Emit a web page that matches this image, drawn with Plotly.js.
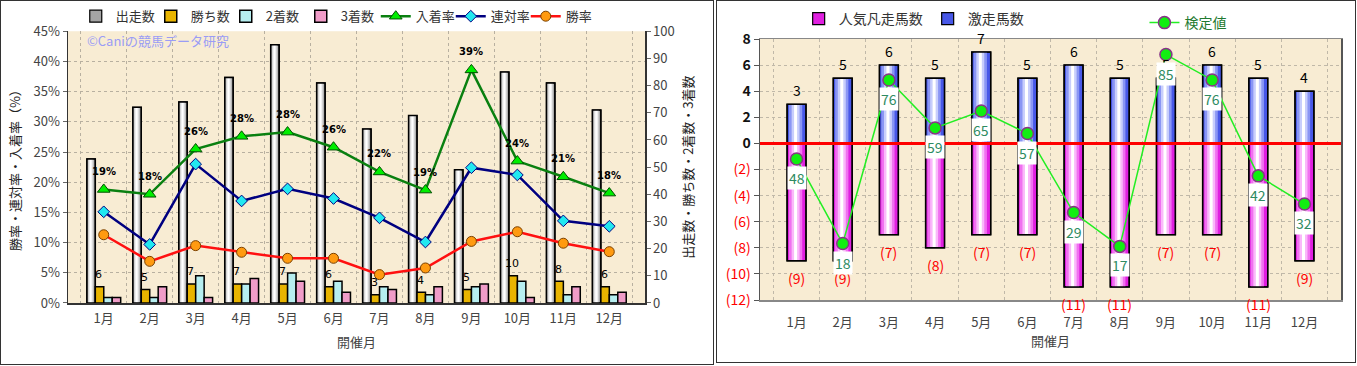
<!DOCTYPE html>
<html><head><meta charset="utf-8">
<script src="https://cdn.plot.ly/plotly-3.0.1.min.js"></script>
<style>
html,body{margin:0;padding:0;background:#fff;}
#c1{position:absolute;left:0;top:0;width:714px;height:365px;box-sizing:border-box;border:1px solid #333;}
#c2{position:absolute;left:716px;top:0;width:640px;height:363px;box-sizing:border-box;border:1px solid #333;}
</style></head>
<body>
<div id="c1"></div><div id="c2"></div>
<script>
// ---------- data: left chart ----------
const months = ['1月','2月','3月','4月','5月','6月','7月','8月','9月','10月','11月','12月'];
const starts   = [53,72,74,83,95,81,64,69,49,85,81,71];     // 出走数
const wins     = [6,5,7,7,7,6,3,4,5,10,8,6];                // 勝ち数
const seconds  = [2,2,10,7,11,8,6,3,6,8,3,3];               // 2着数
const thirds   = [2,6,2,9,8,4,5,6,7,2,6,4];                 // 3着数
const placeRate  = [18.8,18.0,25.5,27.6,28.3,25.8,21.7,18.7,38.6,23.5,20.9,18.2]; // 入着率
const rentaiRate = [15.1,9.7,23.0,16.9,18.9,17.3,14.1,10.1,22.4,21.2,13.6,12.7];  // 連対率
const winRate    = [11.3,6.9,9.5,8.4,7.4,7.4,4.7,5.8,10.2,11.8,9.9,8.5];          // 勝率
const pctTicks = [0,5,10,15,20,25,30,35,40,45];
const cntTicks = [0,10,20,30,40,50,60,70,80,90,100];

// ---------- data: right chart ----------
const gekisou = [3,5,6,5,7,5,6,5,5,6,5,4];       // 激走馬数
const bonsou  = [9,9,7,8,7,7,11,11,7,7,11,9];    // 人気凡走馬数
const kentei  = [48,18,76,59,65,57,29,17,85,76,42,32]; // 検定値
const rTickVals = [-12,-10,-8,-6,-4,-2,0,2,4,6,8];

const FONT = '"Noto Sans CJK JP", "Noto Sans", sans-serif';

function cylinder(opts){
  // stepped gradient bar built from one data array
  const fr = [1, 0.7, 0.42, 0.16];
  const out = [];
  opts.colors.forEach((c,i)=>{
    const wi = opts.w*fr[i];
    const shift = i>0 ? -opts.w*0.05 : 0;
    out.push({type:'bar', x:opts.x, y:opts.y, yaxis:opts.yaxis, width:wi,
      offset:opts.o+(opts.w-wi)/2+shift,
      marker:{color:c, line:{color:'#000', width:i===0?1.2:0}},
      name:opts.name, showlegend:i===0, legend:opts.legend, legendrank:opts.rank,
      hoverinfo:'skip'});
  });
  out.push({type:'bar', x:opts.x, y:opts.y, yaxis:opts.yaxis, width:opts.w, offset:opts.o,
    marker:{color:'rgba(0,0,0,0)', line:{color:'#000', width:1.5}},
    showlegend:false, hoverinfo:'skip'});
  return out;
}

// ---------- left chart ----------
const bw = 0.184;
const t1 = [];
cylinder({x:months, y:starts, yaxis:'y', o:-0.367, w:bw, colors:['#a4a4a4','#cccccc','#eeeeee','#ffffff'], name:'出走数', rank:1})
  .forEach(t=>t1.push(t));
t1.push({type:'bar', x:months, y:wins, yaxis:'y', width:bw, offset:-0.183, name:'勝ち数', legendrank:2,
  marker:{color:'#e8b400', line:{color:'#000', width:1.5}}});
t1.push({type:'bar', x:months, y:seconds, yaxis:'y', width:bw, offset:0.001, name:'2着数', legendrank:3,
  marker:{color:'#b6eef0', line:{color:'#000', width:1.5}}});
t1.push({type:'bar', x:months, y:thirds, yaxis:'y', width:bw, offset:0.185, name:'3着数', legendrank:4,
  marker:{color:'#f09cc8', line:{color:'#000', width:1.5}}});
t1.push({type:'scatter', mode:'lines+markers', x:months, y:placeRate, yaxis:'y2', name:'入着率', legendrank:5,
  line:{color:'#0a8010', width:2.5}, marker:{symbol:'triangle-up', size:11, color:'#00ee00', line:{color:'#005000', width:1}}});
t1.push({type:'scatter', mode:'lines+markers', x:months, y:rentaiRate, yaxis:'y2', name:'連対率', legendrank:6,
  line:{color:'#000080', width:2.5}, marker:{symbol:'diamond', size:9, color:'#22e8f0', line:{color:'#000080', width:1}}});
t1.push({type:'scatter', mode:'lines+markers', x:months, y:winRate, yaxis:'y2', name:'勝率', legendrank:7,
  line:{color:'#ff1010', width:2.5}, marker:{symbol:'circle', size:10, color:'#ff9a10', line:{color:'#7a4000', width:1}}});

const ann1 = placeRate.map((v,i)=>({x:months[i], y:v, xref:'x', yref:'y2', yshift:18, showarrow:false,
  text:'<b>'+Math.round(v)+'%</b>', font:{size:10, color:'#000', family:'DejaVu Sans'}}));
wins.forEach((v,i)=>ann1.push({x:months[i], y:v, xref:'x', yref:'y', yshift:12, xshift:-5, showarrow:false,
  text:String(v), font:{size:11, color:'#000', family:'DejaVu Sans'}}));
ann1.push({xref:'paper', yref:'paper', x:0.03, y:0.965, xanchor:'left', yanchor:'middle', showarrow:false,
  text:'©Caniの競馬データ研究', font:{size:13, color:'#9a9cf5', family:FONT}});

const layout1 = {
  width:712, height:363, margin:{l:67, r:68, t:24, b:61},
  paper_bgcolor:'#fff', plot_bgcolor:'#f8ecd3',
  font:{family:FONT, size:12, color:'#333'},
  barmode:'overlay', showlegend:true,
  legend:{orientation:'h', xref:'container', yref:'container', x:0.105, y:0.958, xanchor:'left', yanchor:'middle',
    font:{size:13, color:'#333'}, bgcolor:'rgba(0,0,0,0)', traceorder:'normal', itemwidth:30, entrywidth:30},
  xaxis:{type:'category', tickson:'boundaries', showgrid:true, griddash:'dot', gridcolor:'#b8b0a0',
    ticks:'', showline:true, linecolor:'#333', linewidth:1.5, mirror:false, ticklabelstandoff:3,
    tickfont:{size:13, color:'#444'}, title:{text:'開催月', font:{size:13, color:'#444'}, standoff:12}},
  yaxis:{side:'right', range:[0,100], tickvals:cntTicks, showgrid:false, zeroline:false,
    showline:true, linecolor:'#333', linewidth:1.5, ticks:'outside', ticklen:4, tickcolor:'#666',
    tickfont:{size:13, color:'#444'},
    title:{text:'出走数・勝ち数・2着数・3着数', font:{size:13, color:'#222'}, standoff:10}},
  yaxis2:{overlaying:'y', side:'left', range:[0,45], tickvals:pctTicks, ticktext:pctTicks.map(v=>v+'%'),
    showgrid:true, griddash:'dot', gridcolor:'#b8b0a0', zeroline:false,
    showline:true, linecolor:'#333', linewidth:1.5, ticks:'outside', ticklen:4, tickcolor:'#666',
    tickfont:{size:13, color:'#444'},
    title:{text:'勝率・連対率・入着率（%）', font:{size:13, color:'#222'}, standoff:10}},
  annotations:ann1
};
Plotly.newPlot('c1', t1, layout1, {displayModeBar:false, staticPlot:true});

// ---------- right chart ----------
const rw = 0.41;
const t2 = [];
cylinder({x:months, y:bonsou.map(v=>-v), yaxis:'y', o:-rw/2, w:rw,
  colors:['#e020e0','#f070f0','#fab8fa','#ffffff'], name:'人気凡走馬数', rank:1, legend:'legend'}).forEach(t=>t2.push(t));
cylinder({x:months, y:gekisou, yaxis:'y', o:-rw/2, w:rw,
  colors:['#4858e8','#8a96f4','#c8cefc','#ffffff'], name:'激走馬数', rank:2, legend:'legend'}).forEach(t=>t2.push(t));
t2.push({type:'scatter', mode:'lines+markers', x:months, y:kentei, yaxis:'y2', name:'検定値', legend:'legend2',
  line:{color:'#22ee22', width:1.5}, marker:{symbol:'circle', size:12, color:'#11ee11', line:{color:'#883388', width:1.5}}});

const ann2 = [];
gekisou.forEach((v,i)=>ann2.push({x:months[i], y:v, xref:'x', yref:'y', yshift:14, showarrow:false,
  text:String(v), font:{size:14, color:'#000', family:FONT}}));
bonsou.forEach((v,i)=>ann2.push({x:months[i], y:-v, xref:'x', yref:'y', yshift:-17, showarrow:false,
  text:'('+v+')', font:{size:14, color:'#ff0000', family:FONT}}));
kentei.forEach((v,i)=>ann2.push({x:months[i], y:v, xref:'x', yref:'y2', yshift:-19, showarrow:false,
  text:String(v), bgcolor:'#ffffff', borderpad:1, font:{size:14, color:'#2e8b62', family:FONT}}));

const layout2 = {
  width:638, height:361, margin:{l:43, r:14, t:33, b:62},
  paper_bgcolor:'#fff', plot_bgcolor:'#f8ecd3',
  font:{family:FONT, size:13, color:'#333'},
  barmode:'overlay', showlegend:true,
  legend:{orientation:'h', xref:'container', yref:'container', x:0.128, y:0.95, xanchor:'left', yanchor:'middle',
    font:{size:14, color:'#333'}, bgcolor:'rgba(0,0,0,0)', traceorder:'normal', itemwidth:30},
  legend2:{orientation:'h', xref:'container', yref:'container', x:0.67, y:0.939, xanchor:'left', yanchor:'middle',
    font:{size:14, color:'#1f7a30'}, bgcolor:'rgba(0,0,0,0)', itemwidth:30},
  xaxis:{type:'category', tickson:'boundaries', showgrid:true, griddash:'dot', gridcolor:'#c0b8a8',
    ticks:'', showline:true, linecolor:'#888', linewidth:1.5, mirror:true, ticklabelstandoff:10,
    tickfont:{size:13, color:'#444'}, title:{text:'開催月', font:{size:13, color:'#444'}, standoff:6}},
  yaxis:{range:[-12,8], tickvals:rTickVals,
    ticktext:rTickVals.map(v=> v<0 ? '<span style="color:#ff0000">('+(-v)+')</span>' : '<b>'+v+'</b>'),
    showgrid:true, griddash:'dot', gridcolor:'#c0b8a8', zeroline:false,
    showline:true, linecolor:'#555', linewidth:1.5, mirror:true, ticks:'outside', ticklen:5, tickcolor:'#555',
    tickfont:{size:14, color:'#111'}},
  yaxis2:{overlaying:'y', range:[-2,90.5], visible:false, showgrid:false, zeroline:false},
  shapes:[{type:'line', xref:'paper', yref:'y', x0:0, x1:1, y0:0, y1:0, layer:'above', line:{color:'#ff0000', width:3}}],
  annotations:ann2
};
Plotly.newPlot('c2', t2, layout2, {displayModeBar:false, staticPlot:true});
</script>
</body></html>
